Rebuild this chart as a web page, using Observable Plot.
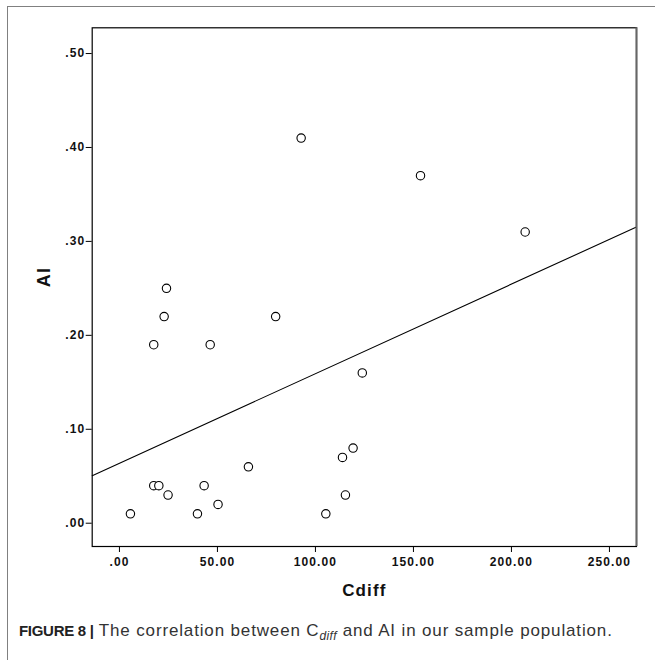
<!DOCTYPE html>
<html>
<head>
<meta charset="utf-8">
<script src="https://cdn.jsdelivr.net/npm/d3@7"></script>
<script src="https://cdn.jsdelivr.net/npm/@observablehq/plot@0.6"></script>
<style>
  html, body { margin: 0; padding: 0; background: #fff; }
  #wrap { position: relative; width: 655px; height: 660px; overflow: hidden; background: #fff; }
  #outer { position: absolute; left: 7px; top: 6px; right: -5px; bottom: -5px; border-left: 1.5px solid #808080; border-top: 1.5px solid #808080; }
  #chart { position: absolute; left: 0; top: 0; }
  #chart text { letter-spacing: 1.1px; }
  #caption { position: absolute; left: 19px; top: 621px; line-height: 19px; font-family: "Liberation Sans", Arial, sans-serif; font-size: 17px; color: #333; white-space: nowrap; letter-spacing: 0.85px; }
  #caption b { font-weight: bold; color: #222; font-size: 15px; letter-spacing: -0.3px; }
  #caption sub { font-size: 12px; vertical-align: -4px; letter-spacing: 0.4px; }
</style>
</head>
<body>
<div id="wrap">
  <div id="outer"></div>
  <div id="chart"></div>
  <div id="caption"><b>FIGURE 8 |</b> The correlation between C<sub><i>diff</i></sub> and AI in our sample population.</div>
</div>
<script>
// Data
const cdiff = [5.6, 17.5, 17.5, 20.1, 22.8, 24.0, 24.8, 39.8, 43.2, 46.3, 50.3, 65.8, 79.7, 92.7, 105.3, 113.8, 115.3, 119.2, 123.9, 153.6, 207.0];
const ai    = [0.01, 0.04, 0.19, 0.04, 0.22, 0.25, 0.03, 0.01, 0.04, 0.19, 0.02, 0.06, 0.22, 0.41, 0.01, 0.07, 0.03, 0.08, 0.16, 0.37, 0.31];
const xTicks = [0, 50, 100, 150, 200, 250];
const yTicks = [0, 0.1, 0.2, 0.3, 0.4, 0.5];
const xDomain = [-13.9, 263.8];
const yDomain = [-0.0248, 0.5274];

const points = cdiff.map((c, i) => ({cdiff: c, ai: ai[i]}));

// Least-squares fit line across the full x range
const mx = d3.mean(cdiff), my = d3.mean(ai);
const sxy = d3.sum(points, d => (d.cdiff - mx) * (d.ai - my));
const sxx = d3.sum(points, d => (d.cdiff - mx) ** 2);
const slope = sxy / sxx, intercept = my - slope * mx;
const fit = xDomain.map(x => ({cdiff: x, ai: intercept + slope * x}));

const fmt = d => d3.format(".2f")(d).replace(/^0\./, ".");

const plot = Plot.plot({
  width: 655,
  height: 605,
  marginLeft: 91.7,
  marginRight: 19,
  marginTop: 27.3,
  marginBottom: 59,
  style: { fontFamily: "'Liberation Sans', Arial, sans-serif", background: "transparent", overflow: "visible" },
  x: { domain: xDomain },
  y: { domain: yDomain },
  marks: [
    Plot.axisX({ ticks: xTicks, tickFormat: fmt, tickSize: 6, tickPadding: 5, fontSize: 12, fontWeight: "bold", stroke: "#000", fill: "#111", label: null }),
    Plot.axisY({ ticks: yTicks, tickFormat: fmt, tickSize: 6, tickPadding: 1, fontSize: 12, fontWeight: "bold", stroke: "#000", fill: "#111", label: null }),
    Plot.text(["Cdiff"], { frameAnchor: "bottom", dy: 49, fontSize: 17, fontWeight: "bold", fill: "#111" }),
    Plot.text(["AI"], { frameAnchor: "left", dx: -48, rotate: -90, fontSize: 18, fontWeight: "bold", fill: "#111" }),
    Plot.line(fit, { x: "cdiff", y: "ai", stroke: "#000", strokeWidth: 1.1 }),
    Plot.dot(points, { x: "cdiff", y: "ai", r: 4.2, stroke: "#000", strokeWidth: 1.1, fill: "#fff" }),
    Plot.frame({ stroke: "#000", strokeWidth: 1.2 }),
    Plot.ruleX([xDomain[1]], { stroke: "#666", strokeWidth: 2 })
  ]
});
document.getElementById("chart").appendChild(plot);
</script>
</body>
</html>
